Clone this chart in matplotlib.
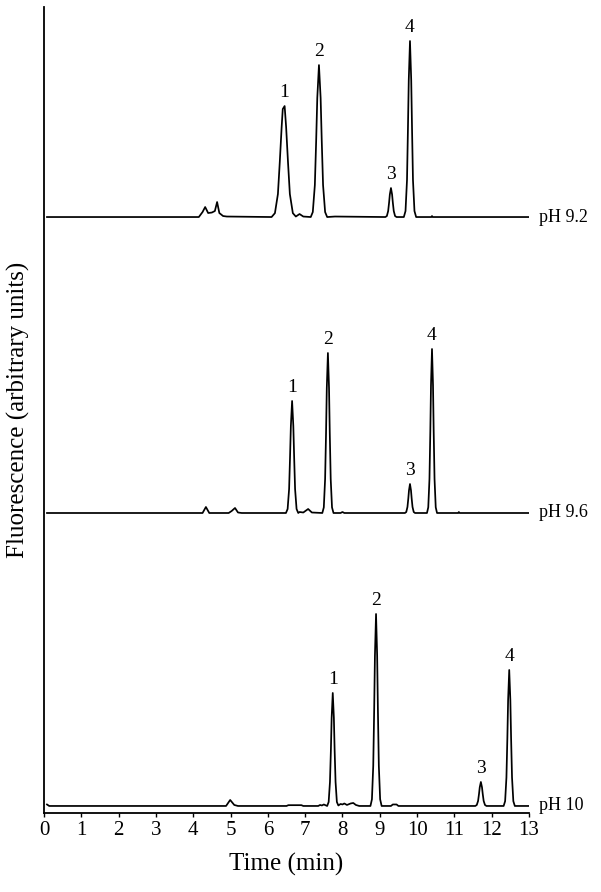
"""Fluorescence chromatograms at three buffer pH values, stacked with offsets."""

import matplotlib
matplotlib.use('Agg')
import matplotlib.pyplot as plt

plt.rcParams['font.family'] = ['Liberation Serif', 'DejaVu Serif']

# traces as (time in min, signal above own baseline)
trace_ph92 = [
    (0.08, 0), (4.15, 0), (4.25, 5), (4.32, 10), (4.40, 4), (4.50, 4.5), (4.58, 6),
    (4.64, 15), (4.70, 4), (4.80, 1), (4.90, 0.5), (6.10, 0),
    (6.19, 3.9), (6.27, 23), (6.32, 55), (6.37, 90), (6.40, 108), (6.45, 111),
    (6.49, 90), (6.54, 55), (6.59, 23), (6.67, 3.9), (6.75, 0.5), (6.85, 3),
    (6.95, 0.5), (7.15, 0), (7.205, 5), (7.26, 32), (7.295, 76), (7.325, 119),
    (7.37, 152), (7.415, 119), (7.445, 76), (7.48, 32), (7.535, 5), (7.59, 0),
    (7.80, 0.5),
    (9.15, 0), (9.19, 1), (9.225, 6), (9.25, 14.5), (9.27, 22.6), (9.30, 29),
    (9.33, 22.6), (9.35, 14.5), (9.375, 6), (9.41, 1), (9.45, 0),
    (9.645, 0), (9.69, 6), (9.73, 37), (9.755, 88), (9.777, 137), (9.81, 176),
    (9.843, 137), (9.865, 88), (9.89, 37), (9.93, 6), (9.975, 0),
    (10.38, 0), (10.40, 1), (10.42, 0), (13.0, 0),
]
trace_ph96 = [
    (0.08, 0), (4.25, 0), (4.34, 6), (4.43, 0), (4.95, 0), (5.03, 2), (5.12, 5),
    (5.20, 0.5), (5.30, 0), (6.485, 0),
    (6.53, 4), (6.57, 24), (6.595, 56), (6.617, 87), (6.65, 112), (6.683, 87),
    (6.705, 56), (6.73, 24), (6.77, 4), (6.815, 0), (6.85, 1), (6.95, 0.5),
    (7.08, 4), (7.18, 0.5), (7.46, 0),
    (7.50, 5.6), (7.535, 34), (7.56, 80), (7.58, 125), (7.61, 160), (7.64, 125),
    (7.66, 80), (7.685, 34), (7.72, 5.6), (7.76, 0), (7.95, 0), (8.0, 1), (8.05, 0),
    (9.675, 0), (9.71, 1), (9.742, 6), (9.765, 14.5), (9.783, 22.6), (9.81, 29),
    (9.837, 22.6), (9.855, 14.5), (9.878, 6), (9.91, 1), (9.945, 0),
    (10.265, 0), (10.30, 5.7), (10.332, 34), (10.355, 82), (10.373, 128),
    (10.40, 164), (10.427, 128), (10.445, 82), (10.468, 34), (10.50, 5.7),
    (10.535, 0), (11.10, 0), (11.12, 1), (11.14, 0), (13.0, 0),
]
trace_ph10 = [
    (0.08, 1.5), (0.14, 0), (4.88, 0), (4.99, 6), (5.10, 1), (5.20, 0),
    (6.50, 0), (6.55, 0.8), (6.90, 0.8), (6.95, 0), (7.35, 0), (7.40, 1),
    (7.45, 0.5), (7.50, 1.5), (7.59, 0),
    (7.63, 4), (7.665, 24), (7.69, 56), (7.71, 88), (7.74, 113), (7.77, 88),
    (7.79, 56), (7.815, 24), (7.85, 4), (7.89, 0.5), (7.95, 2), (8.0, 1.5),
    (8.05, 2.5), (8.12, 1), (8.22, 2.5), (8.29, 3), (8.36, 1), (8.45, 0),
    (8.75, 0), (8.79, 6.7), (8.825, 40), (8.85, 96), (8.87, 150), (8.90, 192),
    (8.93, 150), (8.95, 96), (8.975, 40), (9.01, 6.7), (9.05, 0),
    (9.30, 0), (9.35, 1.5), (9.45, 1.5), (9.50, 0),
    (11.56, 0), (11.60, 1), (11.635, 5), (11.66, 12), (11.68, 18.7), (11.71, 24),
    (11.74, 18.7), (11.76, 12), (11.785, 5), (11.82, 1), (11.86, 0),
    (12.32, 0), (12.36, 4.8), (12.395, 28.5), (12.42, 68), (12.44, 106),
    (12.47, 136), (12.50, 106), (12.52, 68), (12.545, 28.5), (12.58, 4.8),
    (12.62, 0), (13.0, 0),
]

ph_labels = ['pH 9.2', 'pH 9.6', 'pH 10']
offsets = [596, 300, 7]

# numbered analyte peaks: retention time and apex height for each trace
peak_names = ['1', '2', '3', '4']
peak_times = [[6.43, 7.37, 9.30, 9.81], [6.65, 7.61, 9.81, 10.40], [7.74, 8.90, 11.71, 12.47]]
peak_heights = [[111, 152, 29, 176], [112, 160, 29, 164], [113, 192, 24, 136]]

traces = [trace_ph92, trace_ph96, trace_ph10]

fig = plt.figure(figsize=(6.01, 8.92), dpi=100)
ax = fig.add_axes([0.0732, 0.0886, 0.8070, 0.9035])

for trace, off, lab, times, heights in zip(traces, offsets, ph_labels, peak_times, peak_heights):
    t = [p[0] for p in trace]
    y = [p[1] + off for p in trace]
    ax.plot(t, y, color='black', lw=1.25, solid_joinstyle='round')
    ax.text(13.27, off, lab, fontsize=13, ha='left', va='center', clip_on=False)
    for name, pt, ph in zip(peak_names, times, heights):
        ax.annotate(name, (pt, ph + off), xytext=(0, 3.5), textcoords='offset points',
                    ha='center', va='bottom', fontsize=14)

ax.set_xlim(0, 13)
ax.set_ylim(0, 806)
ax.set_xticks(range(0, 14))
ax.set_yticks([])
ax.tick_params(axis='x', direction='out', length=3, width=1, labelsize=15, pad=3)
for s in ['top', 'right']:
    ax.spines[s].set_visible(False)
for s in ['left', 'bottom']:
    ax.spines[s].set_linewidth(1.3)

ax.set_xlabel('Time (min)', fontsize=18, labelpad=9)
ax.set_ylabel('Fluorescence (arbitrary units)', fontsize=18, labelpad=10)

fig.savefig('out.png', dpi=100)
